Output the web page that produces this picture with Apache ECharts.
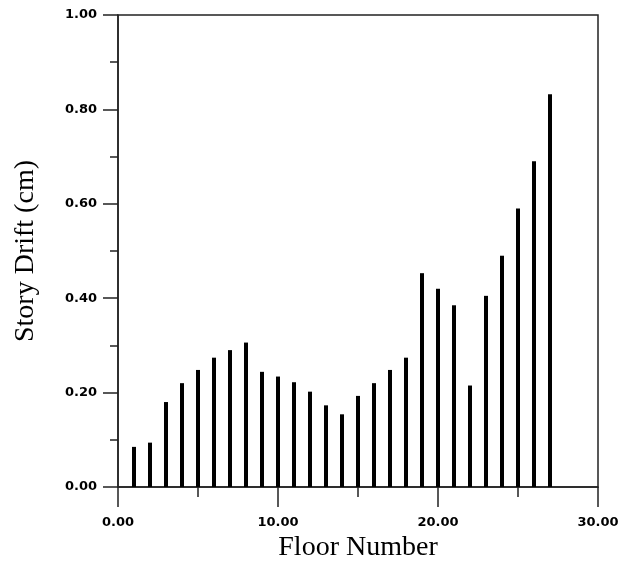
<!doctype html>
<html lang="en">
    <head>
        <meta charset="UTF-8" />
        <title>Story Drift</title>
        <script src="https://cdn.jsdelivr.net/npm/echarts@6.0.0/dist/echarts.min.js"></script>
    </head>
    <body style="margin: 0">
        <div id="main" style="width: 625px; height: 564px"></div>

        <script>
            // Floors and drift per floor (cm)
            const floors = [1, 2, 3, 4, 5, 6, 7, 8, 9, 10, 11, 12, 13, 14, 15, 16, 17, 18, 19, 20, 21, 22, 23, 24, 25, 26, 27];
            const drift = [
                0.085, 0.094, 0.18, 0.22, 0.248, 0.274, 0.29, 0.306, 0.244,
                0.234, 0.222, 0.202, 0.173, 0.154, 0.193, 0.22, 0.248, 0.274,
                0.453, 0.42, 0.385, 0.215, 0.405, 0.49, 0.59, 0.69, 0.832,
            ];

            const myChart = echarts.init(document.getElementById("main"));

            const tickFont = {
                color: "#000",
                fontFamily: "DejaVu Sans",
                fontWeight: "bold",
                fontSize: 13,
                formatter: (v) => v.toFixed(2),
            };

            const options = {
                animation: false,
                grid: {
                    left: 118,
                    right: 27,
                    top: 15,
                    bottom: 77,
                    outerBoundsMode: "none",
                    containLabel: false,
                    show: true,
                    borderColor: "#222",
                    borderWidth: 1.5,
                },
                xAxis: {
                    type: "value",
                    min: 0,
                    max: 30,
                    interval: 10,
                    name: "Floor Number",
                    nameLocation: "middle",
                    nameGap: 46,
                    nameTextStyle: {
                        color: "#000",
                        fontFamily: "Liberation Serif",
                        fontSize: 28,
                    },
                    axisLine: { lineStyle: { color: "#222", width: 1.5 } },
                    axisTick: { length: 20, lineStyle: { color: "#222", width: 1.5 } },
                    minorTick: { show: true, splitNumber: 2, length: 10, lineStyle: { color: "#222", width: 1.5 } },
                    splitLine: { show: false },
                    axisLabel: { ...tickFont, margin: 29 },
                },
                yAxis: {
                    type: "value",
                    min: 0,
                    max: 1,
                    interval: 0.2,
                    name: "Story Drift (cm)",
                    nameLocation: "middle",
                    nameGap: 78,
                    nameTextStyle: {
                        color: "#000",
                        fontFamily: "Liberation Serif",
                        fontSize: 28,
                    },
                    axisLine: { lineStyle: { color: "#222", width: 1.5 } },
                    axisTick: { length: 15, lineStyle: { color: "#222", width: 1.5 } },
                    minorTick: { show: true, splitNumber: 2, length: 8, lineStyle: { color: "#222", width: 1.5 } },
                    splitLine: { show: false },
                    axisLabel: { ...tickFont, margin: 21 },
                },
                series: [
                    {
                        type: "bar",
                        barWidth: 4,
                        itemStyle: { color: "#000" },
                        data: floors.map((f, i) => [f, drift[i]]),
                    },
                ],
            };

            myChart.setOption(options);
        </script>
    </body>
</html>
